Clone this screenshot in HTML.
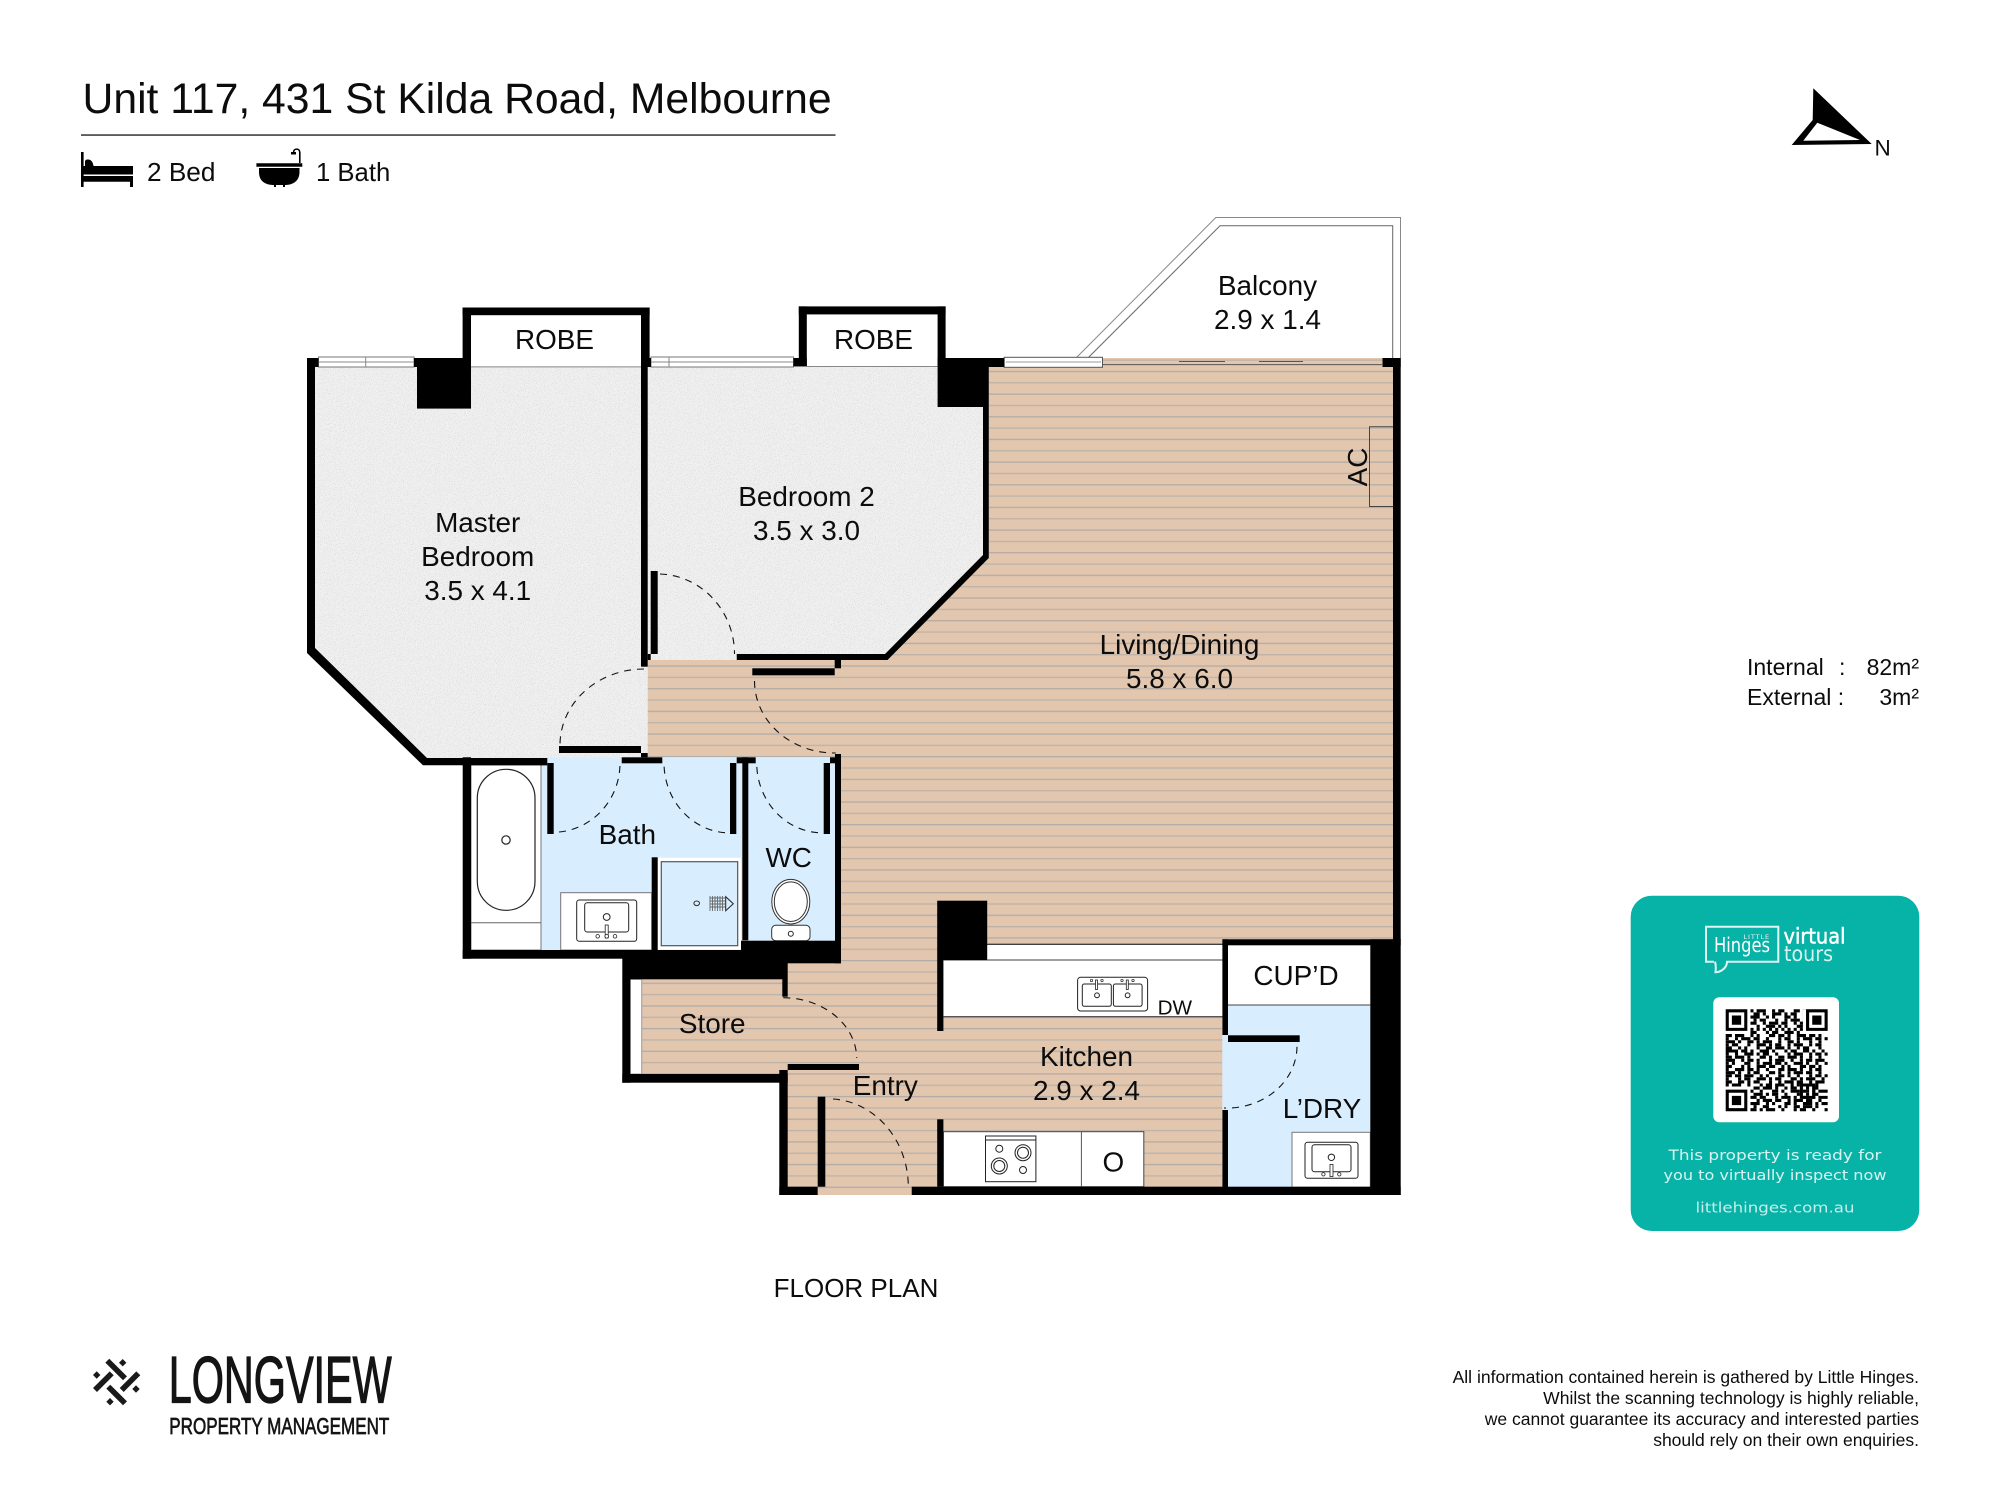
<!DOCTYPE html>
<html><head><meta charset="utf-8"><style>
html,body{margin:0;padding:0;background:#fff}
svg{display:block}
text{font-family:"Liberation Sans",sans-serif;fill:#0c0c0c}
.l{font-size:27.9px;text-anchor:middle}
.k{fill:#000}
.d{fill:none;stroke:#111;stroke-width:1.1;stroke-dasharray:7 6}
.t{fill:none;stroke:#222;stroke-width:1}
.w{fill:#fff;stroke:#777;stroke-width:1}
</style></head><body>
<svg xmlns="http://www.w3.org/2000/svg" width="2000" height="1500" viewBox="0 0 2000 1500">
<defs>
<pattern id="h" patternUnits="userSpaceOnUse" x="0" y="665.4" width="40" height="22.66">
<rect width="40" height="22.66" fill="#e2c6ae"/>
<rect y="0" width="40" height="1.3" fill="#b3aca6"/>
<rect y="11.33" width="40" height="1.3" fill="#bdb3aa"/>
</pattern>
<filter id="n" x="0" y="0" width="1" height="1"><feTurbulence type="fractalNoise" baseFrequency="1.1" numOctaves="2" seed="3" result="t"/><feColorMatrix in="t" type="matrix" values="0 0 0 0 .55 0 0 0 0 .55 0 0 0 0 .55 2.2 0 0 0 -1.15"/><feComposite in2="SourceGraphic" operator="in"/></filter>
</defs>
<rect width="2000" height="1500" fill="#fff"/>

<!-- header -->
<text x="82.500" y="113" font-size="42.7">Unit 117, 431 St Kilda Road, Melbourne</text>
<rect x="81" y="134.3" width="754.5" height="1.5" fill="#333"/>
<text x="147" y="181" font-size="26.2">2 Bed</text>
<text x="316" y="181" font-size="25.7">1 Bath</text>
<path class="k" d="M81 152h2.6v14H85v-4c0-2 1-2.5 3-2.5 3.500 0 5 3 5.500 6.500H133v8.500H83.600v1.500H133V187h-3v-5.200H83.600V187H81Z"/>
<path class="k" d="M256.400 163.300H302.300V166.700H256.400ZM259 168H299.500V172C299.500 181 293 185 285 185V187H283V185H276V187H274V185C265 185 259 181 259 172Z"/>
<path d="M299.800 163V152.500C299.800 148 293.500 148 293.500 152.500" fill="none" stroke="#000" stroke-width="1.600"/>
<rect x="291" y="152" width="5" height="2.500" class="k"/>

<!-- north -->
<path class="k" d="M1813.300 88.300L1871.700 144 1791.700 145 1812.700 120Z"/>
<path fill="#fff" d="M1817.300 122.700L1860 140 1803.300 140.700Z"/>
<text x="1874.500" y="155.500" font-size="22.500">N</text>

<!-- area -->
<text x="1747" y="675" font-size="23">Internal</text><text x="1839" y="675" font-size="23">:</text>
<text x="1919" y="675" font-size="23" text-anchor="end">82m²</text>
<text x="1747" y="705" font-size="23">External :</text>
<text x="1919" y="705" font-size="23" text-anchor="end">3m²</text>

<!-- floors -->
<polygon points="315,367 985,367 985,558 885,657 736,657 736,660 647.700,660 647.700,758 427,758 315,650" fill="#f0f0f0"/>
<polygon points="315,367 985,367 985,558 885,657 736,657 736,660 647.700,660 647.700,758 427,758 315,650" filter="url(#n)"/>
<polygon fill="url(#h)" points="647.700,660 885,660 988.800,558 988.800,367 1004,367 1004,358 1393,358 1393,939.500 1222.400,939.500 1222.400,1187 911.700,1187 911.700,1195 817.700,1195 817.700,1187 787,1187 787,1074 641.700,1074 641.700,979 787,979 787,963 841,963 841,757.300 647.700,757.300"/>
<rect x="541" y="757.300" width="201" height="193" fill="#d8eefe"/>
<rect x="748" y="757.300" width="87" height="183.500" fill="#d8eefe"/>
<rect x="1222.400" y="1005" width="148" height="182" fill="#d8eefe"/>

<!-- balcony -->
<polyline class="t" points="1076.500,357.500 1215.800,217.500 1400.500,217.500 1400.500,358" style="stroke:#888"/>
<polyline class="t" points="1088.400,357.500 1220,225.800 1392.700,225.800 1392.700,358" style="stroke:#666"/>
<path d="M1102 364.600H1382M1179 361.500H1225M1259 361.500H1303" stroke="#555" stroke-width="1" fill="none"/>

<!-- windows -->
<rect class="w" x="318.500" y="357" width="95.500" height="10"/><path d="M318.500 362H414M365.700 357V367" stroke="#888" fill="none"/>
<rect class="w" x="651" y="357" width="142.500" height="10"/><path d="M651 362H793.500M669 357V367" stroke="#888" fill="none"/>
<rect class="w" x="1004.200" y="357.300" width="98.300" height="10" style="stroke:#555"/>
<path d="M1006 362H1101" stroke="#999"/>

<!-- AC -->
<path class="t" d="M1393 426.700H1369.500V506.500H1393" style="stroke:#444"/>
<text transform="translate(1375 467) rotate(-90)" font-size="27.900" text-anchor="middle" x="0" y="-8">AC</text>

<!-- robes bottoms -->
<path d="M471 366.900H641M806.800 366.500H937.600" stroke="#888" stroke-width="1"/>

<!-- fixtures bath -->
<rect class="w" x="471" y="763.300" width="70" height="186.700"/>
<rect x="477.300" y="769.300" width="57.700" height="141" rx="28.800" fill="#fff" stroke="#222" stroke-width="1.200"/>
<circle cx="506" cy="840" r="4.200" fill="none" stroke="#222" stroke-width="1.200"/>
<path d="M471 922.700H541" stroke="#666"/>
<rect class="w" x="560.700" y="892.700" width="91" height="57.300"/>
<rect x="576.700" y="900" width="60" height="41.300" rx="2.500" fill="#fff" stroke="#222"/>
<rect x="584.700" y="902.700" width="44" height="29.300" rx="2.500" fill="#fff" stroke="#222"/>
<circle cx="606.700" cy="917" r="3.400" fill="#fff" stroke="#222"/>
<rect x="605.200" y="925" width="3" height="13" fill="#fff" stroke="#222" stroke-width=".8"/>
<circle cx="597.700" cy="936.300" r="1.800" fill="#fff" stroke="#222" stroke-width=".8"/><circle cx="606.700" cy="936.300" r="1.800" fill="#fff" stroke="#222" stroke-width=".8"/><circle cx="615" cy="936.300" r="1.800" fill="#fff" stroke="#222" stroke-width=".8"/>
<!-- shower -->
<rect x="657.700" y="857.800" width="83.300" height="91.700" fill="#fff"/>
<rect x="661.300" y="861.700" width="76.400" height="84" fill="#d8eefe" stroke="#555" stroke-width="1.200"/>
<ellipse cx="696.700" cy="903.300" rx="2.800" ry="2.300" fill="none" stroke="#333"/>
<path d="M710 896V911M712.500 896V911M715 896V911M717.500 896V911M720 896V911M722.500 896V911M710 898H725M710 901H725M710 904H725M710 907H725" stroke="#666" stroke-width=".9" fill="none"/>
<path d="M725.700 896.700V910.700L733.300 903.700Z" fill="#d8eefe" stroke="#222"/>
<!-- toilet -->
<rect x="771.700" y="925.300" width="38.300" height="15.400" rx="4" fill="#fff" stroke="#333"/>
<ellipse cx="790.800" cy="901.700" rx="19" ry="22.300" fill="#fff" stroke="#333"/>
<ellipse cx="790.800" cy="901.700" rx="16.500" ry="19.800" fill="#fff" stroke="#333"/>
<circle cx="790.800" cy="933.700" r="2.500" fill="#fff" stroke="#222"/>

<!-- store white -->
<rect x="630.300" y="979.300" width="11.400" height="94.700" fill="#fff" stroke="#999"/>

<!-- kitchen -->
<rect x="987" y="944.300" width="235.400" height="15.700" fill="#fff"/>
<path d="M987 944.300H1222.400" stroke="#000" stroke-width="1"/>
<rect x="943.400" y="960" width="279" height="56.700" fill="#fff"/>
<path d="M943.400 960H1222.400" stroke="#666" stroke-width="1.300"/>
<path d="M943.400 1016.700H1222.400" stroke="#555" stroke-width="1.300"/>
<rect x="1077.600" y="977.300" width="70" height="33.700" rx="3" fill="#fff" stroke="#222"/>
<rect x="1082.300" y="984" width="29" height="22.300" rx="2" fill="#fff" stroke="#222"/>
<rect x="1113.400" y="984" width="28.700" height="22.300" rx="2" fill="#fff" stroke="#222"/>
<circle cx="1097" cy="995.300" r="2.400" fill="#fff" stroke="#222"/><circle cx="1127.600" cy="995.300" r="2.400" fill="#fff" stroke="#222"/>
<rect x="1095.500" y="980" width="2" height="9.500" fill="#fff" stroke="#222" stroke-width=".8"/><rect x="1126.300" y="980" width="2" height="9.500" fill="#fff" stroke="#222" stroke-width=".8"/>
<circle cx="1091.500" cy="980.500" r="1.200" fill="#fff" stroke="#222" stroke-width=".7"/><circle cx="1102" cy="980.500" r="1.200" fill="#fff" stroke="#222" stroke-width=".7"/><circle cx="1122" cy="980.500" r="1.200" fill="#fff" stroke="#222" stroke-width=".7"/><circle cx="1133" cy="980.500" r="1.200" fill="#fff" stroke="#222" stroke-width=".7"/>
<rect x="943.400" y="1131.700" width="200.400" height="55" fill="#fff" stroke="#444" stroke-width="1"/>
<path d="M1081.400 1131.700V1187" stroke="#555" stroke-width="1"/>
<rect x="985.500" y="1136" width="50.400" height="45.700" fill="#fff" stroke="#222"/>
<path d="M985.500 1140H1035.900" stroke="#222"/>
<circle cx="999.300" cy="1148.700" r="3.500" fill="#fff" stroke="#222"/><circle cx="1023" cy="1170" r="3.500" fill="#fff" stroke="#222"/>
<circle cx="1023" cy="1152.700" r="8" fill="#fff" stroke="#222"/><circle cx="1023" cy="1152.700" r="5.500" fill="#fff" stroke="#222"/>
<circle cx="999.300" cy="1166" r="8" fill="#fff" stroke="#222"/><circle cx="999.300" cy="1166" r="5.500" fill="#fff" stroke="#222"/>
<!-- laundry -->
<rect x="1228" y="945.300" width="142.300" height="59.700" fill="#fff"/>
<path d="M1228 1005H1370.300" stroke="#666" stroke-width="1.300"/>
<rect class="w" x="1292" y="1132.300" width="78.300" height="55"/>
<rect x="1305" y="1142.300" width="53" height="36" rx="2.500" fill="#fff" stroke="#222"/>
<rect x="1312" y="1144.700" width="39" height="27" rx="2.500" fill="#fff" stroke="#222"/>
<circle cx="1331.400" cy="1157.300" r="3.200" fill="#fff" stroke="#222"/>
<rect x="1330" y="1164.500" width="3" height="12" fill="#fff" stroke="#222" stroke-width=".8"/>
<circle cx="1323.400" cy="1174.300" r="1.700" fill="#fff" stroke="#222" stroke-width=".8"/><circle cx="1339.300" cy="1174.300" r="1.700" fill="#fff" stroke="#222" stroke-width=".8"/>

<!-- walls -->
<g class="k">
<path d="M307 358H318.500V367H315V648L427 758H547V765.300H423L307 653Z"/>
<rect x="414" y="358" width="57" height="9"/>
<rect x="417" y="358" width="54" height="50.600"/>
<rect x="462.600" y="307.500" width="8.400" height="59.500"/>
<rect x="462.600" y="307.500" width="187" height="7.700"/>
<rect x="641" y="307.500" width="8.600" height="59.500"/>
<rect x="641" y="358" width="10" height="9"/>
<rect x="641" y="367" width="6.700" height="299.700"/>
<rect x="647.700" y="654" width="3" height="6"/>
<rect x="650.700" y="571" width="7" height="83"/>
<rect x="798.800" y="306.400" width="8" height="60"/>
<rect x="798.800" y="306.400" width="146.800" height="8"/>
<rect x="937.600" y="306.400" width="8" height="60"/>
<rect x="793.400" y="358" width="13.400" height="8.500"/>
<rect x="937.600" y="358" width="51.200" height="49"/>
<rect x="945.600" y="358" width="58.600" height="9"/>
<path d="M983 407H988.800V558L887.500 660H736.700V654H885L983 555Z"/>
<rect x="752.300" y="668.300" width="82.400" height="7"/>
<rect x="834.700" y="660" width="6.300" height="8.300"/>
<rect x="559" y="746" width="82" height="7"/>
<rect x="641" y="753" width="6.700" height="4.300"/>
<rect x="621.700" y="757.300" width="40.600" height="6"/>
<rect x="462.700" y="757.300" width="8.300" height="201.400"/>
<rect x="462.700" y="758" width="84.600" height="7.300"/>
<rect x="462.700" y="950" width="160" height="8.700"/>
<rect x="547.300" y="763" width="6.400" height="71"/>
<rect x="730" y="763" width="6.300" height="71"/>
<rect x="736.700" y="757.300" width="19" height="6"/>
<rect x="742.300" y="757.300" width="6" height="183"/>
<rect x="651.700" y="857.300" width="6" height="93"/>
<rect x="823.700" y="763" width="6.300" height="71"/>
<rect x="830" y="757.300" width="5" height="6"/>
<rect x="835" y="754" width="6" height="209.300"/>
<rect x="741" y="940.700" width="100" height="22.600"/>
<rect x="622.300" y="950" width="165.400" height="29.300"/>
<rect x="782.300" y="979" width="5.400" height="17.700"/>
<rect x="622.300" y="979" width="8" height="103.700"/>
<rect x="622.300" y="1074" width="165.400" height="8.700"/>
<rect x="787.700" y="1064" width="71.300" height="6"/>
<rect x="779.300" y="1070" width="8.400" height="125"/>
<rect x="779.300" y="1186.700" width="38.400" height="8.300"/>
<rect x="817.700" y="1096.700" width="7.600" height="90"/>
<rect x="911.700" y="1186.700" width="489" height="8.300"/>
<rect x="937.200" y="900.700" width="50" height="59.300"/>
<rect x="937.200" y="960" width="6.200" height="71"/>
<rect x="937.200" y="1119.300" width="6.200" height="67.400"/>
<rect x="1222.400" y="939.300" width="178.300" height="6"/>
<rect x="1222.400" y="939.300" width="5.600" height="95.700"/>
<rect x="1222.400" y="1110" width="5.600" height="77"/>
<rect x="1228" y="1035.300" width="71.700" height="6.700"/>
<rect x="1370.300" y="939.300" width="30.400" height="255.700"/>
<rect x="1393" y="358" width="7.700" height="582"/>
<rect x="1382.500" y="358" width="18.200" height="9"/>
</g>

<!-- door arcs -->
<path class="d" d="M660 574A77 80 0 0 1 734.500 654"/>
<path class="d" d="M644 669A84 76 0 0 0 560 745"/>
<path class="d" d="M754.500 681A80 72 0 0 0 835.800 753"/>
<path class="d" d="M559 832A67 69 0 0 0 620 763"/>
<path class="d" d="M725 832.700A66 70 0 0 1 664 763"/>
<path class="d" d="M818 832.700A66 70 0 0 1 756.700 763"/>
<path class="d" d="M783.300 997.700A74 61 0 0 1 856.700 1058"/>
<path class="d" d="M833 1099A80 88 0 0 1 908.300 1186.700"/>
<path class="d" d="M1297 1046.700A70 62 0 0 1 1224 1108"/>

<!-- labels -->
<text class="l" x="477.700" y="532">Master</text>
<text class="l" x="477.700" y="566">Bedroom</text>
<text class="l" x="477.700" y="600">3.5 x 4.1</text>
<text class="l" x="806.500" y="506">Bedroom 2</text>
<text class="l" x="806.500" y="540">3.5 x 3.0</text>
<text class="l" x="554.500" y="349">ROBE</text>
<text class="l" x="873.500" y="349">ROBE</text>
<text class="l" x="1267.500" y="295">Balcony</text>
<text class="l" x="1267.500" y="329">2.9 x 1.4</text>
<text class="l" x="1179.500" y="654">Living/Dining</text>
<text class="l" x="1179.500" y="688">5.8 x 6.0</text>
<text class="l" x="627.300" y="844">Bath</text>
<text class="l" x="788.700" y="867">WC</text>
<text class="l" x="712.200" y="1033">Store</text>
<text class="l" x="885.300" y="1095">Entry</text>
<text class="l" x="1086.500" y="1066">Kitchen</text>
<text class="l" x="1086.500" y="1100">2.9 x 2.4</text>
<text class="l" x="1296" y="985">CUP’D</text>
<text class="l" x="1322" y="1118">L’DRY</text>
<text class="l" x="1113.400" y="1171.500">O</text>
<text x="1174.800" y="1014.300" font-size="20.700" text-anchor="middle">DW</text>
<text x="856" y="1297" font-size="26" text-anchor="middle">FLOOR PLAN</text>

<!-- teal card -->
<rect x="1630.700" y="895.700" width="288.600" height="335.300" rx="21" fill="#07b2a7"/>
<path d="M1714 961.700H1706V926.700H1778.300V961.700H1727C1727 967 1722 972 1715.500 972.300C1716 968 1716 965 1715 961.700" fill="none" stroke="#dff6f3" stroke-width="2"/>
<text x="1770" y="939" font-size="6.500" text-anchor="end" letter-spacing=".9" style="fill:#e8f8f6;font-family:'DejaVu Sans',sans-serif">LITTLE</text>
<text x="1714" y="952" font-size="20" textLength="56" lengthAdjust="spacingAndGlyphs" style="fill:#fff;font-family:'DejaVu Sans',sans-serif">Hinges</text>
<text x="1783.500" y="943.500" font-size="21" textLength="62" lengthAdjust="spacingAndGlyphs" style="fill:#fff;font-family:'DejaVu Sans',sans-serif;stroke:#fff;stroke-width:.5">virtual</text>
<text x="1784" y="961" font-size="21" textLength="49" lengthAdjust="spacingAndGlyphs" style="fill:#d8f4f1;font-family:'DejaVu Sans',sans-serif">tours</text>
<rect x="1713.300" y="997.300" width="125.700" height="125" rx="6" fill="#fff"/>
<g transform="translate(1725.700 1009.300) scale(3.090)" fill="none" stroke="#000" stroke-width="1">
<path d="M0 .5H33" stroke-dasharray="0 8 1 1 3 2 1 1 2 3 2 1 1 7"/>
<path d="M0 1.500H33" stroke-dasharray="0 9 2 1 1 2 3 1 1 1 2 2 1 8"/>
<path d="M0 2.500H33" stroke-dasharray="0 8 3 2 1 1 1 3 2 1 1 2 1 8"/>
<path d="M0 3.500H33" stroke-dasharray="0 9 1 1 2 3 1 2 1 1 3 1 1 7"/>
<path d="M0 4.500H33" stroke-dasharray="0 8 2 2 1 1 3 1 2 2 1 1 2 8"/>
<path d="M0 5.500H33" stroke-dasharray="0 10 1 2 3 1 1 1 1 3 2 8"/>
<path d="M0 6.500H33" stroke-dasharray="0 8 1 1 1 1 1 1 1 1 1 1 1 1 1 1 1 1 1 8"/>
<path d="M0 7.500H33" stroke-dasharray="0 8 2 3 1 1 2 2 3 1 1 8"/>
<path d="M0 8.500H33" stroke-dasharray="2 1 3 2 1 1 1 3 2 1 2 1 1 2 3 1 2 1 1 3"/>
<path d="M0 9.500H33" stroke-dasharray="1 2 1 1 3 1 2 2 1 3 1 1 2 2 1 1 3 1 2 1"/>
<path d="M0 10.500H33" stroke-dasharray="3 1 1 2 2 1 1 1 3 2 1 2 2 1 1 3 1 2 1 2"/>
<path d="M0 11.500H33" stroke-dasharray="1 1 2 3 1 2 3 1 1 1 2 2 1 1 3 2 1 1 2 2"/>
<path d="M0 12.500H33" stroke-dasharray="2 2 1 1 1 3 1 2 2 1 3 1 1 2 1 1 2 3 1 2"/>
<path d="M0 13.500H33" stroke-dasharray="4 1 2 1 1 2 3 1 1 3 1 1 2 2 2 1 1 2 1 1"/>
<path d="M0 14.500H33" stroke-dasharray="1 2 1 2 3 1 1 1 2 2 1 3 1 1 3 2 1 1 2 1"/>
<path d="M0 15.500H33" stroke-dasharray="2 1 3 1 1 3 2 1 1 2 2 1 3 1 1 2 1 2 1 2"/>
<path d="M0 16.500H33" stroke-dasharray="3 2 1 1 2 1 1 3 1 1 3 2 1 2 1 1 2 1 3 1"/>
<path d="M0 17.500H33" stroke-dasharray="1 1 1 3 2 2 1 1 3 1 2 1 1 2 3 1 1 2 1 2"/>
<path d="M0 18.500H33" stroke-dasharray="2 3 1 1 1 2 3 1 2 2 1 1 1 3 2 1 2 1 1 2"/>
<path d="M0 19.500H33" stroke-dasharray="1 2 3 1 2 1 1 2 1 3 2 1 3 1 1 2 1 1 2 2"/>
<path d="M0 20.500H33" stroke-dasharray="3 1 1 2 1 1 2 3 2 1 1 2 1 1 3 1 2 2 1 2"/>
<path d="M0 21.500H33" stroke-dasharray="2 1 2 1 3 2 1 1 1 3 2 1 1 2 1 3 1 1 2 1"/>
<path d="M0 22.500H33" stroke-dasharray="1 3 1 1 2 2 3 1 1 1 2 3 2 1 1 1 3 2 1 1"/>
<path d="M0 23.500H33" stroke-dasharray="2 2 2 1 1 1 2 3 1 2 1 1 3 1 2 2 1 1 3 1"/>
<path d="M0 24.500H33" stroke-dasharray="1 1 3 2 1 3 1 1 2 1 3 2 1 1 1 2 2 1 1 3"/>
<path d="M0 25.500H33" stroke-dasharray="0 9 2 1 3 1 1 2 1 1 2 3 1 1 2 3"/>
<path d="M0 26.500H33" stroke-dasharray="0 8 1 2 1 3 2 1 1 2 3 1 1 2 1 1 3"/>
<path d="M0 27.500H33" stroke-dasharray="0 9 3 1 1 1 2 2 1 3 1 2 1 1 2 3"/>
<path d="M0 28.500H33" stroke-dasharray="0 8 2 1 2 3 1 1 3 1 1 2 2 1 1 1 3"/>
<path d="M0 29.500H33" stroke-dasharray="0 10 1 1 3 1 2 2 1 1 3 1 2 2 1 2"/>
<path d="M0 30.500H33" stroke-dasharray="0 8 3 2 1 1 1 3 2 1 1 2 3 1 1 1 2"/>
<path d="M0 31.500H33" stroke-dasharray="0 9 1 2 2 3 1 1 1 2 2 1 3 1 1 3"/>
<path d="M0 32.500H33" stroke-dasharray="0 8 2 1 1 1 3 2 1 3 1 1 2 2 1 3 1"/>
<g stroke="none">
<path fill="#fff" d="M0 0h8v8H0ZM25 0h8v8h-8ZM0 25h8v8H0Z"/>
<path fill="#000" fill-rule="evenodd" d="M0 0h7v7H0ZM1 1v5h5V1ZM2 2h3v3H2ZM26 0h7v7h-7ZM27 1v5h5V1ZM28 2h3v3h-3ZM0 26h7v7H0ZM1 27v5h5v-5ZM2 28h3v3H2Z"/>
<path fill="#000" fill-rule="evenodd" d="M24 24h5v5h-5ZM25 25v3h3v-3ZM26 26h1v1h-1Z"/>
</g>
</g>
<text x="1775" y="1160" font-size="14.500" text-anchor="middle" textLength="213" lengthAdjust="spacingAndGlyphs" style="fill:#d9f4f1;font-family:'DejaVu Sans',sans-serif">This property is ready for</text>
<text x="1775" y="1180" font-size="14.500" text-anchor="middle" textLength="223" lengthAdjust="spacingAndGlyphs" style="fill:#d9f4f1;font-family:'DejaVu Sans',sans-serif">you to virtually inspect now</text>
<text x="1775" y="1212.500" font-size="14.500" text-anchor="middle" textLength="159" lengthAdjust="spacingAndGlyphs" style="fill:#c7eeea;font-family:'DejaVu Sans',sans-serif">littlehinges.com.au</text>

<!-- longview logo -->
<g stroke="#1a1a1a" stroke-width="5.600" fill="none">
<path d="M107.300 1360.700L125 1378.300M138.300 1373.300L121.700 1390M95 1390L111.700 1373.300M108.300 1386.700L125 1403.300"/>
</g>
<g fill="#1a1a1a">
<path d="M122.700 1359l3.700 3.700-3.700 3.700-3.700-3.700ZM96.700 1371.300l3.700 3.700-3.700 3.700-3.700-3.700ZM136 1385.300l3.700 3.700-3.700 3.700-3.700-3.700ZM110 1398l3.700 3.700-3.700 3.700-3.700-3.700Z"/>
</g>
<text x="168.700" y="1402.700" font-size="66" textLength="223" lengthAdjust="spacingAndGlyphs" style="fill:#141414;stroke:#141414;stroke-width:1.300">LONGVIEW</text>
<text x="169.300" y="1434" font-size="23" textLength="220" lengthAdjust="spacingAndGlyphs" style="fill:#141414;stroke:#141414;stroke-width:.7">PROPERTY MANAGEMENT</text>

<!-- disclaimer -->
<g font-size="17.530" text-anchor="end">
<text x="1919" y="1383">All information contained herein is gathered by Little Hinges.</text>
<text x="1919" y="1404">Whilst the scanning technology is highly reliable,</text>
<text x="1919" y="1425">we cannot guarantee its accuracy and interested parties</text>
<text x="1919" y="1446">should rely on their own enquiries.</text>
</g>
</svg>
</body></html>
